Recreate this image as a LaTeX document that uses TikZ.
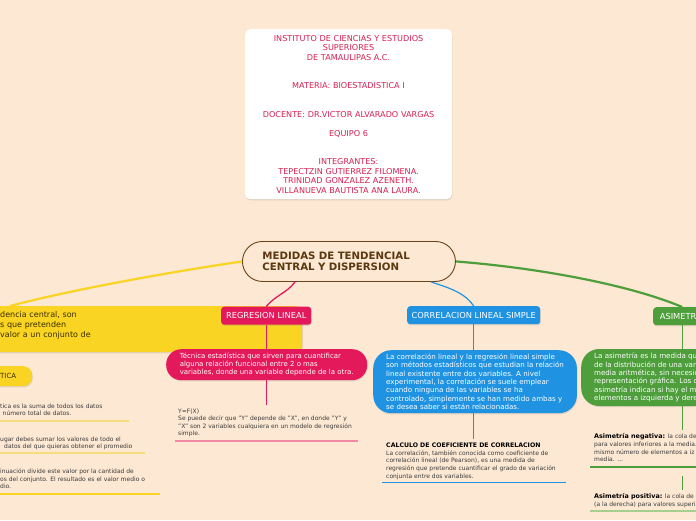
\documentclass[tikz,border=0pt]{standalone}
\usepackage{fontspec}
\setmainfont{DejaVu Sans}
\usetikzlibrary{shadows}
\definecolor{paper}{HTML}{FDE8D3}
\definecolor{rootline}{HTML}{6B4318}
\definecolor{roottext}{HTML}{5A3810}
\definecolor{titletext}{HTML}{D42052}
\definecolor{ybranch}{HTML}{F9D423}
\definecolor{ylight}{HTML}{F7DC7A}
\definecolor{ytext}{HTML}{3A2E00}
\definecolor{pbranch}{HTML}{E3195B}
\definecolor{plight}{HTML}{F28AA5}
\definecolor{bbranch}{HTML}{1F93E2}
\definecolor{gbranch}{HTML}{4E9E3C}
\definecolor{glight}{HTML}{A6CF8F}
\definecolor{notegray}{HTML}{3B3B3B}
\tikzset{
  boxshadow/.style={drop shadow={opacity=.22,shadow xshift=.6pt,shadow yshift=-1.2pt}},
  topicbox/.style={anchor=north west,rounded corners=3pt,text=white,minimum height=18pt,
    inner xsep=4pt,inner ysep=0pt,font=\fontsize{8.3}{9}\selectfont,boxshadow},
  detailbox/.style={anchor=north west,text=white,align=left,inner xsep=13pt,
    font=\fontsize{7.1}{8.4}\selectfont,boxshadow},
  notetext/.style={anchor=north west,inner sep=0pt,align=left,text=notegray,
    font=\fontsize{6}{7.6}\selectfont},
}
\begin{document}
\begin{tikzpicture}[x=1pt,y=-1pt]
\fill[paper] (0,0) rectangle (696,520);
\useasboundingbox (0,0) rectangle (696,520);
\clip (0,0) rectangle (696,520);

% title card
\node[anchor=north west,fill=white,rounded corners=5pt,minimum width=206pt,minimum height=170pt,
  text width=200pt,align=center,text=titletext,font=\fontsize{8.1}{9.5}\selectfont,boxshadow]
  (title) at (245,29)
  {INSTITUTO DE CIENCIAS Y ESTUDIOS\\SUPERIORES\\DE TAMAULIPAS A.C.\\[19pt]
   MATERIA: BIOESTADISTICA I\\[19pt]
   DOCENTE: DR.VICTOR ALVARADO VARGAS\\[9.5pt]
   EQUIPO 6\\[19pt]
   INTEGRANTES:\\TEPECTZIN GUTIERREZ FILOMENA.\\TRINIDAD GONZALEZ AZENETH.\\VILLANUEVA BAUTISTA ANA LAURA.};

% central topic
\node[anchor=north west,draw=rootline,line width=.9pt,fill=paper,rounded corners=20pt,
  minimum width=213pt,minimum height=40pt,inner xsep=20pt,text width=173pt,align=left,
  text=roottext,font=\bfseries\fontsize{10.2}{11}\selectfont]
  (root) at (242,241) {MEDIDAS DE TENDENCIAL\\CENTRAL Y DISPERSION};

% yellow branch
\node[anchor=north west,fill=ybranch,rounded corners=6pt,minimum height=46pt,inner xsep=10pt,
  text width=292pt,align=left,text=ytext,font=\fontsize{8}{9.7}\selectfont,boxshadow]
  (tendmain) at (-10,306) {dencia central, son\\s que pretenden\\valor a un conjunto de\\\mbox{}};
\node[anchor=north west,fill=ybranch,rounded corners=9pt,minimum height=20pt,inner xsep=10pt,
  text width=22pt,align=left,text=ytext,font=\fontsize{7}{8}\selectfont,boxshadow]
  (mediatopic) at (-10,366) {TICA};
\node[notetext] (media1) at (0,403.5) {tica es la suma de todos los datos\\\hspace{2.5pt}número total de datos.};
\node[notetext] (media2) at (0,436.5) {ugar debes sumar los valores de todo el\\\hspace{4pt}datos del que quieras obtener el promedio};
\node[notetext] (media3) at (0,468.5) {inuación divide este valor por la cantidad de\\os del conjunto. El resultado es el valor medio o\\dio.};
\draw[ylight,line width=1.4pt] (0,421) -- (129,421);
\draw[ylight,line width=1.4pt] (0,453) -- (145,453);
\draw[ybranch,line width=1.4pt] (0,494) -- (160,494);
\coordinate (yend) at (10,306);
\draw[ybranch,line width=2.2pt] (root.west) .. controls (170,272) and (70,290) .. (yend);

% pink branch
\node[topicbox,fill=pbranch,minimum width=90pt] (regtopic) at (221,306.5) {REGRESION LINEAL};
\node[detailbox,fill=pbranch,rounded corners=15pt,minimum height=31pt,minimum width=201pt,
  font=\fontsize{6.95}{8}\selectfont]
  (regdetail) at (166,349)
  {Técnica estadística que sirven para cuantificar\\alguna relación funcional entre 2 o mas\\variables, donde una variable depende de la otra.};
\node[notetext,font=\fontsize{6}{7.4}\selectfont] (regnote) at (178,408.5)
  {Y=F(X)\\Se puede decir que "Y" depende de "X", en donde "Y" y\\"X" son 2 variables cualquiera en un modelo de regresión\\simple.};
\draw[plight,line width=1.3pt] (175,441) -- (358,441);
\draw[pbranch,line width=1.3pt] ([xshift=53pt]root.south west) .. controls +(-8,11) and +(9,-11) .. (regtopic.north);
\draw[pbranch,line width=.9pt] (regtopic.south) -- (regdetail.north -| regtopic.south);
\draw[pbranch,line width=.9pt] (regdetail.south -| regtopic.south) -- ([yshift=3.5pt]regnote.north -| regtopic.south);

% blue branch
\node[topicbox,fill=bbranch,minimum width=133pt] (cortopic) at (407,306) {CORRELACION LINEAL SIMPLE};
\node[detailbox,fill=bbranch,rounded corners=18pt,minimum height=63pt,minimum width=202pt]
  (cordetail) at (373,350)
  {La correlación lineal y la regresión lineal simple\\son métodos estadísticos que estudian la relación\\lineal existente entre dos variables. A nivel\\experimental, la correlación se suele emplear\\cuando ninguna de las variables se ha\\controlado, simplemente se han medido ambas y\\se desea saber si están relacionadas.};
\node[notetext,font=\fontsize{6}{7.7}\selectfont] (cornote) at (386,442.5)
  {\textcolor{black}{\textbf{\fontsize{6.2}{7.7}\selectfont CALCULO DE COEFICIENTE DE CORRELACION}}\\La correlación, también conocida como coeficiente de\\correlación lineal (de Pearson), es una medida de\\regresión que pretende cuantificar el grado de variación\\conjunta entre dos variables.};
\draw[bbranch,line width=1pt] (382,482) -- (566,482);
\draw[bbranch,line width=1.2pt] ([xshift=-25pt]root.south east) .. controls +(22,7) and +(-8,-12) .. (cortopic.north);
\draw[bbranch,line width=.9pt] (cortopic.south) -- (cordetail.north -| cortopic.south);
\draw[bbranch,line width=.9pt] (cordetail.south -| cortopic.south) -- ([yshift=4pt]cornote.north -| cortopic.south);

% green branch
\node[topicbox,fill=gbranch,minimum width=58pt] (asimtopic) at (653,307) {ASIMETRIA};
\node[detailbox,fill=gbranch,rounded corners=18pt,minimum height=57pt,anchor=west,align=left]
  (asimdetail) at (581,377.5)
  {La asimetría es la medida qu\\de la distribución de una vari\\media aritmética, sin necesid\\representación gráfica. Los c\\asimetría indican si hay el mi\\elementos a izquierda y dere};
\node[notetext,font=\fontsize{6}{7.7}\selectfont] (negnote) at (594,433.5)
  {\textcolor{black}{\textbf{\fontsize{6.4}{7.7}\selectfont Asimetría negativa:}} la cola de la\\para valores inferiores a la media.\\mismo número de elementos a iz\\media. ...};
\node[notetext,font=\fontsize{6}{7.7}\selectfont] (posnote) at (594,493.5)
  {\textcolor{black}{\textbf{\fontsize{6.4}{7.7}\selectfont Asimetría positiva:}} la cola de la\\(a la derecha) para valores superi};
\draw[gbranch,line width=1.2pt] (590,467) -- (696,467);
\draw[glight,line width=1.2pt] (590,511) -- (696,511);
\coordinate (negend) at (682,476);
\draw[gbranch,line width=2.2pt] (root.east) .. controls (540,268) and (630,285) .. (asimtopic.north);
\draw[gbranch,line width=.9pt] (asimtopic.south) -- (asimdetail.north -| asimtopic.south);
\draw[gbranch,line width=.9pt] (asimdetail.south -| asimtopic.south) -- ([yshift=3.5pt]negnote.north -| asimtopic.south);
\draw[gbranch,line width=.9pt] (negend) -- ([yshift=3.5pt]posnote.north -| negend);
\end{tikzpicture}
\end{document}
